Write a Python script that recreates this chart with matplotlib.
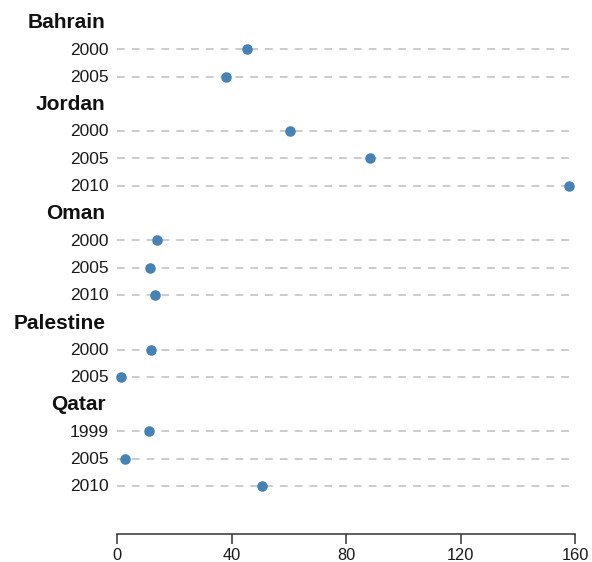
import matplotlib
matplotlib.use("Agg")
import matplotlib.pyplot as plt

countries = ["Bahrain", "Jordan", "Oman", "Palestine", "Qatar"]
years = [["2000", "2005"],
         ["2000", "2005", "2010"],
         ["2000", "2005", "2010"],
         ["2000", "2005"],
         ["1999", "2005", "2010"]]
values = [[45.3, 37.9],
          [60.4, 88.3, 158.0],
          [13.8, 11.4, 13.2],
          [11.7, 1.2],
          [11.1, 2.6, 50.7]]
xticks = [0, 40, 80, 120, 160]

plt.rcParams['font.family'] = ['Liberation Sans', 'DejaVu Sans']

W, H = 592, 562
fig = plt.figure(figsize=(W / 100, H / 100), dpi=100)
ax_left, ax_right = 117.3 / W, 575 / W
ax_bottom = (H - 534) / H
ax_top = (H - 8) / H
ax = fig.add_axes([ax_left, ax_bottom, ax_right - ax_left, ax_top - ax_bottom])

row_h = (486 - 22) / 17.0
top_lim = -(22 - 8) / row_h
n_rows = sum(1 + len(y) for y in years)
bottom_lim = (n_rows - 1) + (534 - 486) / row_h

row = 0
for c, ys, vs in zip(countries, years, values):
    ax.text(-12 / 2.8606, row + 0.03, c, ha='right', va='center', fontsize=15,
            fontweight='bold', color='#111111')
    row += 1
    for y, v in zip(ys, vs):
        ax.plot([0, 160], [row, row], color='#c8c8c8', lw=1.3,
                dashes=(4.3, 3.9), zorder=1, solid_capstyle='butt')
        ax.text(-9 / 2.8606, row + 0.03, y, ha='right', va='center', fontsize=12.5,
                color='#1a1a1a')
        ax.plot([v], [row], 'o', color='#4682b4', markersize=7.6,
                markeredgewidth=0, zorder=3, clip_on=False)
        row += 1

ax.set_xlim(0, 160)
ax.set_ylim(bottom_lim, top_lim)
ax.set_yticks([])
ax.set_xticks(xticks)
ax.set_xticklabels([str(t) for t in xticks])
for s in ['top', 'right', 'left']:
    ax.spines[s].set_visible(False)
ax.spines['bottom'].set_color('#333333')
ax.spines['bottom'].set_linewidth(1.1)
ax.tick_params(axis='x', length=7, width=1.1, color='#333333', pad=3,
               labelsize=11.8, labelcolor='#1a1a1a')

fig.savefig("out.png", dpi=100)
